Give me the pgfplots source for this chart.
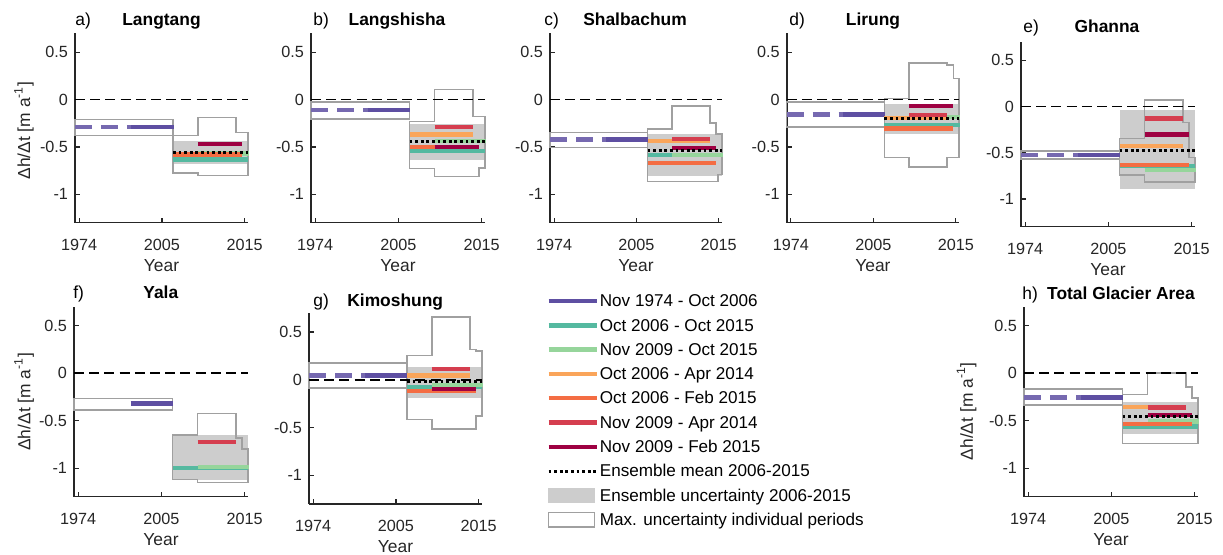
\documentclass[border=0pt]{standalone}
\usepackage{fontspec}
\setmainfont{Liberation Sans}
\usepackage{pgfplots}
\pgfplotsset{compat=1.18}
\definecolor{cpur}{RGB}{94,79,162}
\definecolor{cteal}{RGB}{85,185,160}
\definecolor{clgr}{RGB}{150,213,155}
\definecolor{cora}{RGB}{250,165,90}
\definecolor{cored}{RGB}{244,109,67}
\definecolor{cred}{RGB}{213,62,79}
\definecolor{cmar}{RGB}{158,1,66}
\definecolor{ensgray}{RGB}{205,205,205}
\definecolor{outgray}{RGB}{160,160,160}
\definecolor{axcol}{RGB}{38,38,38}
\definecolor{txtcol}{RGB}{38,38,38}
\newcommand{\tickf}{\fontsize{8.1}{9.7}\selectfont}
\newcommand{\labf}{\fontsize{8.7}{10.4}\selectfont}
\newcommand{\legf}{\fontsize{8.55}{10.2}\selectfont}
\newcommand{\seg}[4]{\addplot[#1,line width=2.2pt] coordinates {(#2,#4) (#3,#4)};}
\newcommand{\ens}[2]{\addplot[fill=ensgray,draw=none] coordinates {(1.135,#1) (2.04,#1) (2.04,#2) (1.135,#2)} -- cycle;}
\newcommand{\prebox}[2]{\addplot[draw=outgray,line width=0.75pt] coordinates {(-0.05,#1) (1.135,#1) (1.135,#2) (-0.05,#2)} -- cycle;}
\newcommand{\zero}{\addplot[black,line width=0.7pt,dash pattern=on 5pt off 2.6pt] coordinates {(-0.05,0) (2.04,0)};}
\newcommand{\purp}[1]{\addplot[cpur!85!white,line width=2.2pt,dash pattern=on 8.5pt off 4.5pt] coordinates {(-0.05,#1) (0.63,#1)};
\addplot[cpur,line width=2.2pt] coordinates {(0.63,#1) (1.145,#1)};}
\newcommand{\mean}[1]{\addplot[black,line width=1.4pt,dash pattern=on 1.4pt off 1.4pt] coordinates {(1.135,#1) (2.04,#1)};}
\pgfplotsset{
  panel/.style 2 args={
    scale only axis, width=#1, height=#2,
    xmin=-0.05, xmax=2.04, ymin=-1.3, ymax=0.7,
    axis x line*=bottom, axis y line*=left,
    axis line style={-, line width=0.8pt, draw=axcol},
    xtick={0,1,2}, xticklabels={1974,2005,2015},
    ytick={-1,-0.5,0,0.5}, yticklabels={-1,-0.5,0,0.5},
    tick align=inside, major tick length=2.5pt,
    tick style={line width=0.6pt, color=axcol},
    tick label style={font=\tickf, text=txtcol},
    xticklabel style={anchor=center, yshift=-11pt},
    xlabel={Year},
    xlabel style={at={(axis description cs:0.5,0)}, anchor=center, yshift=-21.5pt, font=\labf, text=txtcol},
    ylabel style={font=\labf, text=txtcol, anchor=center},
    clip=false,
  }
}
\begin{document}
\begin{tikzpicture}
\useasboundingbox (0,0) rectangle (611.5pt,277.5pt);

% a) Langtang
\begin{axis}[panel={86.5pt}{94.7pt}, at={(37.5pt,166.15pt)}, anchor=south west,
  ylabel={Δh/Δt [m a\textsuperscript{-1}]}, ylabel style={at={(axis description cs:-0.295,0.487)}}]
\ens{-0.44}{-0.68}
\addplot[draw=outgray,line width=0.75pt] coordinates {(1.135,-0.377) (1.435,-0.377) (1.435,-0.187) (1.895,-0.187) (1.895,-0.345) (2.04,-0.345) (2.04,-0.80) (1.435,-0.80) (1.435,-0.775) (1.135,-0.775)} -- cycle;
\prebox{-0.21}{-0.38}
\zero
\purp{-0.29}
\seg{cteal}{1.135}{2.045}{-0.634}
\seg{clgr}{1.435}{2.05}{-0.57}
\seg{cored}{1.135}{1.97}{-0.58}
\seg{cmar}{1.435}{1.97}{-0.468}
\mean{-0.563}
\end{axis}

% b) Langshisha
\begin{axis}[panel={87pt}{94.7pt}, at={(155.5pt,166.15pt)}, anchor=south west]
\ens{-0.257}{-0.634}
\addplot[draw=outgray,line width=0.75pt] coordinates {(1.135,-0.232) (1.435,-0.232) (1.435,0.106) (1.895,0.106) (1.895,-0.18) (2.04,-0.18) (2.04,-0.72) (1.97,-0.72) (1.97,-0.81) (1.435,-0.81) (1.435,-0.73) (1.135,-0.73)} -- cycle;
\prebox{-0.025}{-0.204}
\zero
\purp{-0.113}
\seg{cteal}{1.135}{2.045}{-0.546}
\seg{clgr}{1.435}{2.05}{-0.44}
\seg{cora}{1.135}{1.895}{-0.37}
\seg{cored}{1.135}{1.97}{-0.5}
\seg{cred}{1.435}{1.895}{-0.292}
\seg{cmar}{1.435}{1.97}{-0.5}
\mean{-0.444}
\end{axis}

% c) Shalbachum
\begin{axis}[panel={86pt}{94.7pt}, at={(275pt,166.15pt)}, anchor=south west]
\ens{-0.363}{-0.81}
\addplot[draw=outgray,line width=0.75pt] coordinates {(1.135,-0.31) (1.435,-0.31) (1.435,-0.07) (1.895,-0.07) (1.895,-0.246) (1.97,-0.246) (1.97,-0.363) (2.04,-0.363) (2.04,-0.79) (1.99,-0.79) (1.99,-0.863) (1.135,-0.863)} -- cycle;
\prebox{-0.345}{-0.504}
\zero
\purp{-0.423}
\seg{cteal}{1.135}{2.045}{-0.588}
\seg{clgr}{1.435}{2.05}{-0.588}
\seg{cora}{1.135}{1.895}{-0.44}
\seg{cored}{1.135}{1.97}{-0.669}
\seg{cred}{1.435}{1.895}{-0.415}
\seg{cmar}{1.435}{1.97}{-0.51}
\mean{-0.54}
\end{axis}

% d) Lirung
\begin{axis}[panel={86.2pt}{94.7pt}, at={(393.35pt,166.15pt)}, anchor=south west]
\ens{-0.046}{-0.363}
\addplot[draw=outgray,line width=0.75pt] coordinates {(1.135,0.01) (1.435,0.01) (1.435,0.387) (1.895,0.387) (1.895,0.363) (1.97,0.363) (1.97,0.222) (2.04,0.222) (2.04,-0.61) (1.895,-0.61) (1.895,-0.71) (1.435,-0.71) (1.435,-0.61) (1.135,-0.61)} -- cycle;
\prebox{-0.028}{-0.289}
\zero
\purp{-0.158}
\seg{cteal}{1.135}{2.045}{-0.27}
\seg{clgr}{1.435}{2.05}{-0.183}
\seg{cora}{1.135}{1.895}{-0.194}
\seg{cored}{1.135}{1.97}{-0.306}
\seg{cred}{1.435}{1.895}{-0.165}
\seg{cmar}{1.435}{1.97}{-0.07}
\mean{-0.2}
\end{axis}

% e) Ghanna
\begin{axis}[panel={87pt}{92.5pt}, at={(510.5pt,164.15pt)}, anchor=south west]
\ens{-0.04}{-0.895}
\addplot[draw=outgray,line width=0.75pt] coordinates {(1.135,-0.347) (1.435,-0.347) (1.435,0.072) (1.895,0.072) (1.895,-0.173) (1.97,-0.173) (1.97,-0.55) (2.04,-0.55) (2.04,-0.816) (1.435,-0.816) (1.435,-0.74) (1.135,-0.74)} -- cycle;
\prebox{-0.48}{-0.57}
\zero
\purp{-0.523}
\seg{cteal}{1.135}{2.045}{-0.643}
\seg{clgr}{1.435}{2.05}{-0.686}
\seg{cora}{1.135}{1.895}{-0.426}
\seg{cored}{1.135}{1.97}{-0.632}
\seg{cred}{1.435}{1.895}{-0.13}
\seg{cmar}{1.435}{1.97}{-0.303}
\mean{-0.473}
\end{axis}

% f) Yala
\begin{axis}[panel={87pt}{95pt}, at={(37pt,29.15pt)}, anchor=south west,
  ylabel={Δh/Δt [m a\textsuperscript{-1}]}, ylabel style={at={(axis description cs:-0.287,0.5)}}]
\ens{-0.653}{-1.12}
\addplot[draw=outgray,line width=0.75pt] coordinates {(1.135,-0.653) (1.435,-0.653) (1.435,-0.423) (1.895,-0.423) (1.895,-0.684) (1.97,-0.684) (1.97,-0.80) (2.04,-0.80) (2.04,-1.153) (1.435,-1.153) (1.435,-1.12) (1.135,-1.12)} -- cycle;
\prebox{-0.265}{-0.385}
\zero
\addplot[cpur,line width=2.2pt] coordinates {(0.63,-0.317) (1.145,-0.317)};
\seg{cteal}{1.135}{2.045}{-0.995}
\seg{clgr}{1.435}{2.05}{-0.985}
\seg{cred}{1.435}{1.895}{-0.723}
\end{axis}

% g) Kimoshung
\begin{axis}[panel={86.5pt}{95.5pt}, at={(154.5pt,25.5pt)}, anchor=south west]
\ens{0.133}{-0.193}
\addplot[draw=outgray,line width=0.75pt] coordinates {(1.135,0.253) (1.435,0.253) (1.435,0.656) (1.895,0.656) (1.895,0.316) (1.97,0.316) (1.97,0.30) (2.04,0.30) (2.04,-0.38) (1.97,-0.38) (1.97,-0.516) (1.435,-0.516) (1.435,-0.414) (1.135,-0.414)} -- cycle;
\prebox{0.175}{-0.088}
\zero
\purp{0.046}
\seg{cteal}{1.135}{2.045}{-0.077}
\seg{clgr}{1.435}{2.05}{-0.056}
\seg{cora}{1.135}{1.895}{0.046}
\seg{cored}{1.135}{1.97}{-0.116}
\seg{cred}{1.435}{1.895}{0.112}
\seg{cmar}{1.435}{1.97}{-0.095}
\mean{-0.014}
\end{axis}

% h) Total Glacier Area
\begin{axis}[panel={87pt}{95pt}, at={(512pt,29.15pt)}, anchor=south west,
  ylabel={Δh/Δt [m a\textsuperscript{-1}]}, ylabel style={at={(axis description cs:-0.33,0.45)}}]
\ens{-0.307}{-0.635}
\addplot[draw=outgray,line width=0.75pt] coordinates {(1.135,-0.226) (1.435,-0.226) (1.435,0) (1.895,0) (1.895,-0.148) (1.97,-0.148) (1.97,-0.261) (2.04,-0.261) (2.04,-0.74) (1.135,-0.74)} -- cycle;
\prebox{-0.166}{-0.335}
\zero
\purp{-0.254}
\seg{cteal}{1.135}{2.045}{-0.561}
\seg{clgr}{1.435}{2.05}{-0.508}
\seg{cora}{1.135}{1.895}{-0.353}
\seg{cored}{1.135}{1.97}{-0.536}
\seg{cred}{1.435}{1.895}{-0.36}
\seg{cmar}{1.435}{1.97}{-0.437}
\mean{-0.459}
\end{axis}

% legend
\begin{axis}[at={(0pt,0pt)}, anchor=south west, scale only axis, width=611.5pt, height=277.5pt,
  hide axis, xmin=0, xmax=1, ymin=0, ymax=1,
  legend cell align=left,
  legend style={at={(0.4465,0.4728)}, anchor=north west, draw=none, fill=none, inner sep=0pt,
    row sep=4.05pt, column sep=0.5pt, font=\legf,
    nodes={inner sep=0pt, text height=6.9pt, text depth=1.2pt}}]
\addlegendimage{legend image code/.code={\draw[cpur,line width=2.2pt] (0pt,0pt) -- (24pt,0pt);}}
\addlegendentry{Nov 1974 - Oct 2006}
\addlegendimage{legend image code/.code={\draw[cteal,line width=2.2pt] (0pt,0pt) -- (24pt,0pt);}}
\addlegendentry{Oct 2006 - Oct 2015}
\addlegendimage{legend image code/.code={\draw[clgr,line width=2.2pt] (0pt,0pt) -- (24pt,0pt);}}
\addlegendentry{Nov 2009 - Oct 2015}
\addlegendimage{legend image code/.code={\draw[cora,line width=2.2pt] (0pt,0pt) -- (24pt,0pt);}}
\addlegendentry{Oct 2006 - Apr 2014}
\addlegendimage{legend image code/.code={\draw[cored,line width=2.2pt] (0pt,0pt) -- (24pt,0pt);}}
\addlegendentry{Oct 2006 - Feb 2015}
\addlegendimage{legend image code/.code={\draw[cred,line width=2.2pt] (0pt,0pt) -- (24pt,0pt);}}
\addlegendentry{Nov 2009 - Apr 2014}
\addlegendimage{legend image code/.code={\draw[cmar,line width=2.2pt] (0pt,0pt) -- (24pt,0pt);}}
\addlegendentry{Nov 2009 - Feb 2015}
\addlegendimage{legend image code/.code={\draw[black,line width=1.4pt,dash pattern=on 1.4pt off 1.4pt] (0pt,0pt) -- (24pt,0pt);}}
\addlegendentry{Ensemble mean 2006-2015}
\addlegendimage{legend image code/.code={\fill[ensgray] (0pt,-3.7pt) rectangle (23pt,3.7pt);}}
\addlegendentry{Ensemble uncertainty 2006-2015}
\addlegendimage{legend image code/.code={\draw[outgray,line width=0.75pt] (0pt,-3.7pt) rectangle (23pt,3.7pt);}}
\addlegendentry{Max. uncertainty individual periods}
\end{axis}

% panel letters and titles
\begin{scope}[every node/.style={inner sep=0pt, font=\labf}]
\node[anchor=base west] at (37.5pt,264.5pt) {a)};
\node[anchor=base, font=\labf\bfseries] at (80.75pt,264.5pt) {Langtang};
\node[anchor=base west] at (156.5pt,264.5pt) {b)};
\node[anchor=base, font=\labf\bfseries] at (198.5pt,264.5pt) {Langshisha};
\node[anchor=base west] at (272pt,264.5pt) {c)};
\node[anchor=base, font=\labf\bfseries] at (317.5pt,264.5pt) {Shalbachum};
\node[anchor=base west] at (394.5pt,264.5pt) {d)};
\node[anchor=base, font=\labf\bfseries] at (436.5pt,264.5pt) {Lirung};
\node[anchor=base west] at (511.5pt,261.35pt) {e)};
\node[anchor=base, font=\labf\bfseries] at (553.5pt,261.35pt) {Ghanna};
\node[anchor=base west] at (36.5pt,128.35pt) {f)};
\node[anchor=base, font=\labf\bfseries] at (80.4pt,128.35pt) {Yala};
\node[anchor=base west] at (156.5pt,124.15pt) {g)};
\node[anchor=base, font=\labf\bfseries] at (197.6pt,124.15pt) {Kimoshung};
\node[anchor=base west] at (511pt,127.85pt) {h)};
\node[anchor=base, font=\labf\bfseries] at (560.5pt,127.85pt) {Total Glacier Area};
\end{scope}
\end{tikzpicture}
\end{document}
